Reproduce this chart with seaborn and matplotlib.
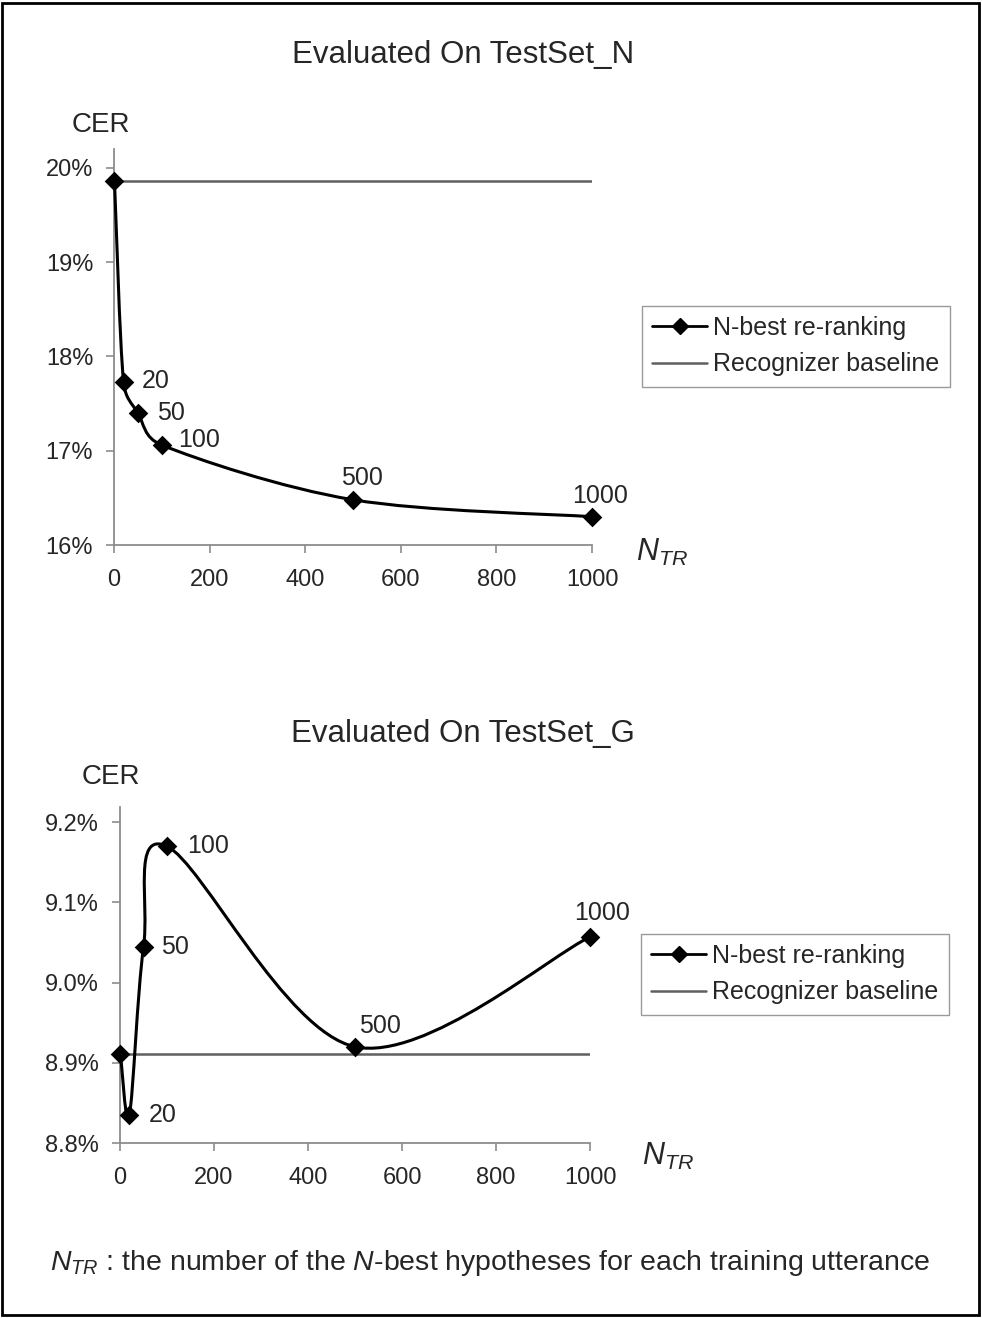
import numpy as np
import matplotlib
matplotlib.use("Agg")
import matplotlib.pyplot as plt
from matplotlib.path import Path
from matplotlib.patches import PathPatch, Rectangle
from matplotlib.lines import Line2D
import seaborn as sns

# data
n_tr = [1, 20, 50, 100, 500, 1000]
point_labels = ['', '20', '50', '100', '500', '1000']
cer_testset_n = [19.86, 17.73, 17.40, 17.06, 16.48, 16.30]
cer_testset_g = [8.911, 8.835, 9.044, 9.170, 8.920, 9.057]
baseline_n = 19.86
baseline_g = 8.911

sns.set_style("white")
plt.rcParams['font.family'] = ['Liberation Sans', 'DejaVu Sans']
plt.rcParams['mathtext.fontset'] = 'custom'
plt.rcParams['mathtext.it'] = 'Liberation Sans:italic'
plt.rcParams['mathtext.rm'] = 'Liberation Sans'

AXIS_GREY = '#8c8c8c'
BASE_GREY = '#606060'


def smooth_path(ax, xs, ys, f=1 / 6):
    # Excel-like smoothed line: Catmull-Rom style bezier, built in screen space
    pts = ax.transData.transform(np.column_stack([xs, ys]))
    n = len(pts)
    verts = [pts[0]]
    codes = [Path.MOVETO]
    for i in range(n - 1):
        p0 = pts[max(i - 1, 0)]
        p1 = pts[i]
        p2 = pts[i + 1]
        p3 = pts[min(i + 2, n - 1)]
        d12 = np.hypot(*(p2 - p1))
        d02 = np.hypot(*(p2 - p0))
        d13 = np.hypot(*(p3 - p1))
        f1 = min(f, d12 / (2 * d02)) if d02 > 0 else f
        f2 = min(f, d12 / (2 * d13)) if d13 > 0 else f
        verts += [p1 + f1 * (p2 - p0), p2 - f2 * (p3 - p1), p2]
        codes += [Path.CURVE4] * 3
    verts = ax.transData.inverted().transform(np.array(verts))
    return Path(verts, codes)


def draw_panel(fig, rect, cer, baseline, ylim, yticks, yfmt, offsets, title, title_y,
               cer_xy, ntr_xy, legend_xy):
    ax = fig.add_axes(rect)
    ax.set_xlim(0, 1000)
    ax.set_ylim(*ylim)

    ax.axhline(baseline, color=BASE_GREY, lw=1.8, zorder=2)
    curve = PathPatch(smooth_path(ax, n_tr, cer), fill=False, ec='black', lw=2.2, zorder=3)
    curve.set_clip_on(False)
    ax.add_patch(curve)
    sns.scatterplot(x=n_tr, y=cer, marker='D', s=100, color='black',
                    edgecolor='black', linewidth=0, ax=ax, zorder=4)
    ax.collections[-1].set_clip_on(False)

    for x, y, lbl, (dx, dy, ha) in zip(n_tr, cer, point_labels, offsets):
        if lbl:
            ax.annotate(lbl, (x, y), xytext=(dx, dy), textcoords='offset pixels',
                        ha=ha, va='center', fontsize=18)

    ax.set_xticks(range(0, 1001, 200))
    ax.set_yticks(yticks)
    ax.set_yticklabels([yfmt.format(t) for t in yticks])
    ax.tick_params(axis='both', direction='out', length=6, width=1.2,
                   color=AXIS_GREY, labelsize=17, left=True, bottom=True)
    ax.tick_params(axis='y', pad=9)
    ax.tick_params(axis='x', pad=11)
    for side in ['top', 'right']:
        ax.spines[side].set_visible(False)
    for side in ['left', 'bottom']:
        ax.spines[side].set_color(AXIS_GREY)
        ax.spines[side].set_linewidth(1.3)

    fig.text(463 / 982, 1 - title_y / 1318, title, ha='center', va='center', fontsize=22.5)
    fig.text(cer_xy[0] / 982, 1 - cer_xy[1] / 1318, 'CER', ha='left', va='center', fontsize=20)
    fig.text(ntr_xy[0] / 982, 1 - ntr_xy[1] / 1318, '$N_{TR}$', ha='left', va='center',
             fontsize=22)

    handles = [Line2D([], [], color='black', lw=2, marker='D', markersize=8.5),
               Line2D([], [], color=BASE_GREY, lw=1.8)]
    ax.legend(handles, ['N-best re-ranking', 'Recognizer baseline'],
              loc='upper left', bbox_to_anchor=(legend_xy[0] / 982, 1 - legend_xy[1] / 1318),
              bbox_transform=fig.transFigure, frameon=True, fancybox=False,
              edgecolor='#9a9a9a', framealpha=1, fontsize=18, borderpad=0.4,
              handlelength=2.2, handletextpad=0.25, labelspacing=0.5, borderaxespad=0)
    return ax


fig = plt.figure(figsize=(9.82, 13.18), dpi=100)

draw_panel(fig, [114 / 982, 1 - 545 / 1318, 478 / 982, 396 / 1318],
           cer_testset_n, baseline_n, (16, 20.2), [16, 17, 18, 19, 20], '{:.0f}%',
           [(0, 0, 'left'), (18, 1, 'left'), (19, 0, 'left'), (16, 5, 'left'),
            (9, 22, 'center'), (8, 21, 'center')],
           'Evaluated On TestSet_N', 55, (72, 125), (636, 552), (642, 306))

draw_panel(fig, [120 / 982, 1 - 1143 / 1318, 470 / 982, 336 / 1318],
           cer_testset_g, baseline_g, (8.8, 9.219), [8.8, 8.9, 9.0, 9.1, 9.2], '{:.1f}%',
           [(0, 0, 'left'), (19, 0, 'left'), (18, 0, 'left'), (20, 0, 'left'),
            (25, 21, 'center'), (12, 24, 'center')],
           'Evaluated On TestSet_G', 734, (82, 777), (642, 1156), (641, 934))

fig.text(50 / 982, 1 - 1263 / 1318,
         '$N_{TR}$ : the number of the $N$-best hypotheses for each training utterance',
         ha='left', va='center', fontsize=20.5)

fig.patches.append(Rectangle((0.002, 0.002), 0.995, 0.996, transform=fig.transFigure,
                             fill=False, lw=2, ec='black'))

fig.savefig('out.png', dpi=100)
